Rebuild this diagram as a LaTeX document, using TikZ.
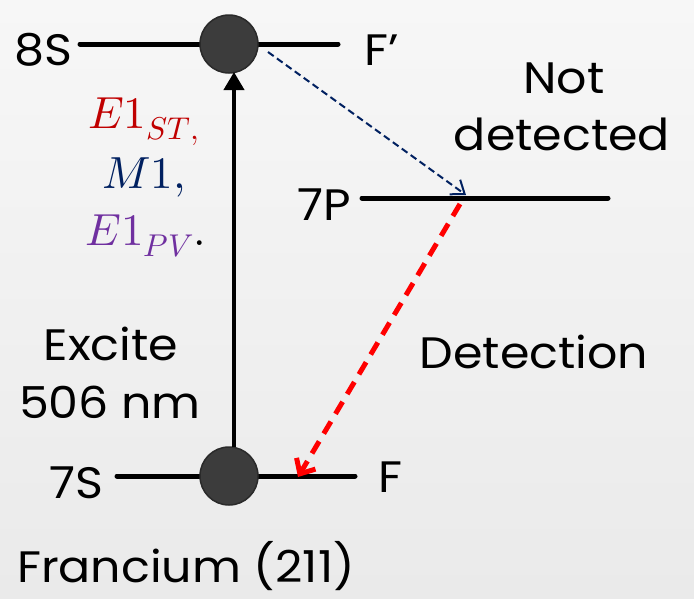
\documentclass[tikz,border=0pt]{standalone}
\usepackage{fontspec}
\usepackage{unicode-math}
\setmainfont{Poppins}[FakeStretch=1.08]
\setmathfont{Latin Modern Math}
\usetikzlibrary{arrows.meta}
\definecolor{bgtop}{HTML}{F7F7F7}
\definecolor{bgbot}{HTML}{EAEAEA}
\definecolor{dotfill}{HTML}{3C3C3C}
\definecolor{dotline}{HTML}{2A2A2A}
\definecolor{stred}{HTML}{C00000}
\definecolor{mnavy}{HTML}{002060}
\definecolor{pvpurple}{HTML}{7030A0}
\definecolor{detred}{HTML}{FF0000}
\tikzset{
  level/.style={line width=5pt, line cap=round},
  atom/.style={circle, fill=dotfill, draw=dotline, line width=1.5pt, minimum size=58pt, inner sep=0pt},
  lbl/.style={font=\fontsize{44}{50}\selectfont, inner sep=0pt},
  mlbl/.style={font=\fontsize{45}{50}\selectfont, inner sep=0pt},
}
\begin{document}
\begin{tikzpicture}[x=1pt,y=-1pt]
\shade[top color=bgtop, bottom color=bgbot] (0,0) rectangle (694,598);
\useasboundingbox (0,0) rectangle (694,598);
% levels
\coordinate (s8l) at (80,44);
\coordinate (s8r) at (338,44);
\coordinate (p7l) at (362,198);
\coordinate (p7r) at (608,198);
\coordinate (s7l) at (117,476);
\coordinate (s7r) at (355,476);
\draw[level] (s8l) -- (s8r);
\draw[level] (p7l) -- (p7r);
\draw[level] (s7l) -- (s7r);
% atoms
\node[atom] (a8) at (229,44) {};
\node[atom] (a7) at (229,476) {};
% excitation arrow
\coordinate (exs) at (234,447);
\coordinate (exe) at (234,72);
\draw[line width=4pt, -{Triangle[length=18pt,width=20pt]}] (exs) -- (exe);
% not detected decay
\coordinate (nds) at (268,52);
\coordinate (nde) at (466,195);
\draw[mnavy, line width=2pt, dash pattern=on 7pt off 4pt, -{Straight Barb[length=12pt,width=18pt,line width=2pt]}] (nds) -- (nde);
% detection decay
\coordinate (dts) at (460,204);
\coordinate (dte) at (298,477);
\draw[detred, line width=5pt, dash pattern=on 14pt off 9pt, -{Straight Barb[length=12pt,width=22pt,line width=5pt]}] (dts) -- (dte);
% labels
\node[lbl, anchor=base east] (l8s) at (73,65) {8S};
\node[lbl, anchor=base west] (lfp) at (364,65) {F’};
\node[lbl, anchor=base east] (l7p) at (351,220) {7P};
\node[lbl, anchor=base east] (l7s) at (104,498) {7S};
\node[lbl, anchor=base west] (lf) at (378,492) {F};
\node[lbl, anchor=base] (lnot) at (564,93) {Not};
\node[lbl, anchor=base] (ldtd) at (562,150) {detected};
\node[lbl, anchor=base] (ldet) at (534,368) {Detection};
\node[lbl, anchor=base] (lex1) at (111,360) {Excite};
\node[lbl, anchor=base] (lex2) at (110,418) {506 nm};
\node[lbl, anchor=base west] (lfr) at (17,582) {Francium (211)};
\node[mlbl, anchor=base] (e1st) at (144,128) {\color{stred}$E1_{ST,}$};
\node[mlbl, anchor=base] (m1) at (144,188) {\color{mnavy}$M1,$};
\node[mlbl, anchor=base] (e1pv) at (146,245) {\color{pvpurple}$E1_{PV}$\color{black}$.$};
\end{tikzpicture}
\end{document}
